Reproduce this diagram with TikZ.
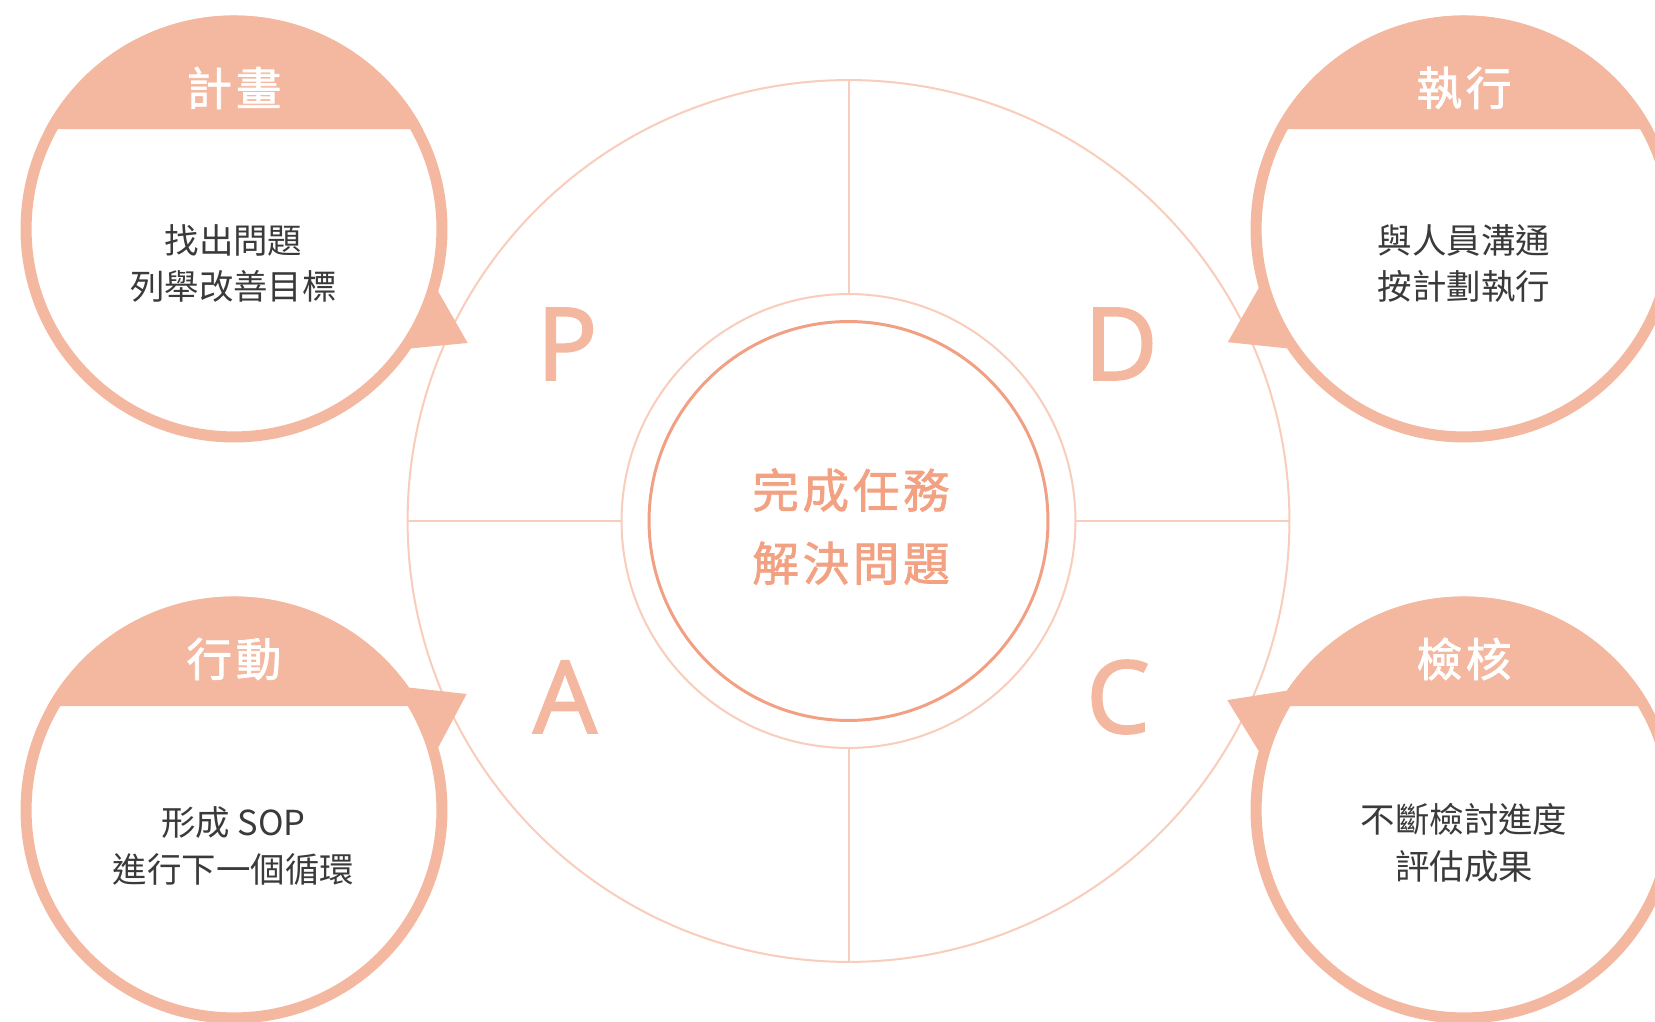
\documentclass[tikz,border=0pt]{standalone}
\usepackage{fontspec}
\newfontfamily\cjk{Noto Sans CJK TC}
\newfontfamily\cjkwide{Noto Sans CJK TC}[LetterSpace=8, FakeBold=1.6]
\newfontfamily\pdcafont{Open Sans}[FakeBold=2.2]
\definecolor{salmon}{HTML}{F4B8A0}
\definecolor{ringline}{HTML}{F8CDBB}
\definecolor{coreline}{HTML}{F1A084}
\definecolor{coretext}{HTML}{F2A283}
\definecolor{bodytext}{HTML}{3A3A3A}
\tikzset{
  crossline/.style={draw=ringline, line width=1.15pt},
  ringstyle/.style={circle, draw=salmon, line width=6.3pt, fill=white, minimum size=8.32cm},
  speechtip/.style={fill=salmon},
  headtext/.style={text=white, font=\cjkwide\fontsize{26}{30}\selectfont},
  bodystyle/.style={text=bodytext, align=center, font=\cjk\fontsize{19.6}{26.7}\selectfont},
  pdcaletter/.style={text=salmon, font=\pdcafont\fontsize{57}{60}\selectfont},
}

\begin{document}
\begin{tikzpicture}[x=0.02cm, y=0.02cm]
\clip (0,0) rectangle (1655,1021);
\useasboundingbox (0,0) rectangle (1655,1021);

% the cycle in the middle
\node[circle, crossline, minimum size=17.64cm] (cycle) at (848.5,500) {};
\node[circle, crossline, minimum size=9.08cm] (hub) at (848.5,500) {};
\node[circle, draw=coreline, line width=1.7pt, minimum size=7.98cm] (core) at (848.5,500) {};
\draw[crossline] (cycle.west) -- (hub.west);
\draw[crossline] (hub.east) -- (cycle.east);
\draw[crossline] (cycle.north) -- (hub.north);
\draw[crossline] (hub.south) -- (cycle.south);
\node[align=center, text=coretext, font=\cjkwide\fontsize{26.5}{41.5}\selectfont] (task) at (851,494.5) {完成任務\\解決問題};

% letters
\node[pdcaletter] (letterP) at (567,677) {P};
\node[pdcaletter] (letterD) at (1121,677) {D};
\node[pdcaletter] (letterA) at (565,324) {A};
\node[pdcaletter] (letterC) at (1118,324) {C};

% four bubbles
\node[ringstyle] (plan) at (234,792) {};
\fill[salmon] (plan.center) ++(27.9:213.5) arc[start angle=27.9, end angle=152.1, radius=213.5] -- cycle;
\fill[speechtip] (plan.-17.4) -- ([shift={(-26:260)}]plan.center) -- (plan.-34.8) -- cycle;
\node[headtext] (planhead) at (234,933) {計畫};
\node[bodystyle] (plantext) at (233.5,757.5) {找出問題\\列舉改善目標};

\node[ringstyle] (doit) at (1464,792) {};
\fill[salmon] (doit.center) ++(27.9:213.5) arc[start angle=27.9, end angle=152.1, radius=213.5] -- cycle;
\fill[speechtip] (doit.196.6) -- ([shift={(205.6:262)}]doit.center) -- (doit.214.5) -- cycle;
\node[headtext] (dohead) at (1464,933) {執行};
\node[bodystyle] (dotext) at (1464,757.5) {與人員溝通\\按計劃執行};

\node[ringstyle] (act) at (234,211) {};
\fill[salmon] (act.center) ++(29.15:213.5) arc[start angle=29.15, end angle=150.85, radius=213.5] -- cycle;
\fill[speechtip] (act.35.4) -- ([shift={(26.5:260)}]act.center) -- (act.17.4) -- cycle;
\node[headtext] (acthead) at (234,362) {行動};
\node[bodystyle] (acttext) at (233.5,175) {形成 SOP\\進行下一個循環};

\node[ringstyle] (check) at (1464,211) {};
\fill[salmon] (check.center) ++(29.15:213.5) arc[start angle=29.15, end angle=150.85, radius=213.5] -- cycle;
\fill[speechtip] (check.146.2) -- ([shift={(155.1:261)}]check.center) -- (check.164.1) -- cycle;
\node[headtext] (checkhead) at (1464,362) {檢核};
\node[bodystyle] (checktext) at (1464,178.5) {不斷檢討進度\\評估成果};
\end{tikzpicture}
\end{document}
